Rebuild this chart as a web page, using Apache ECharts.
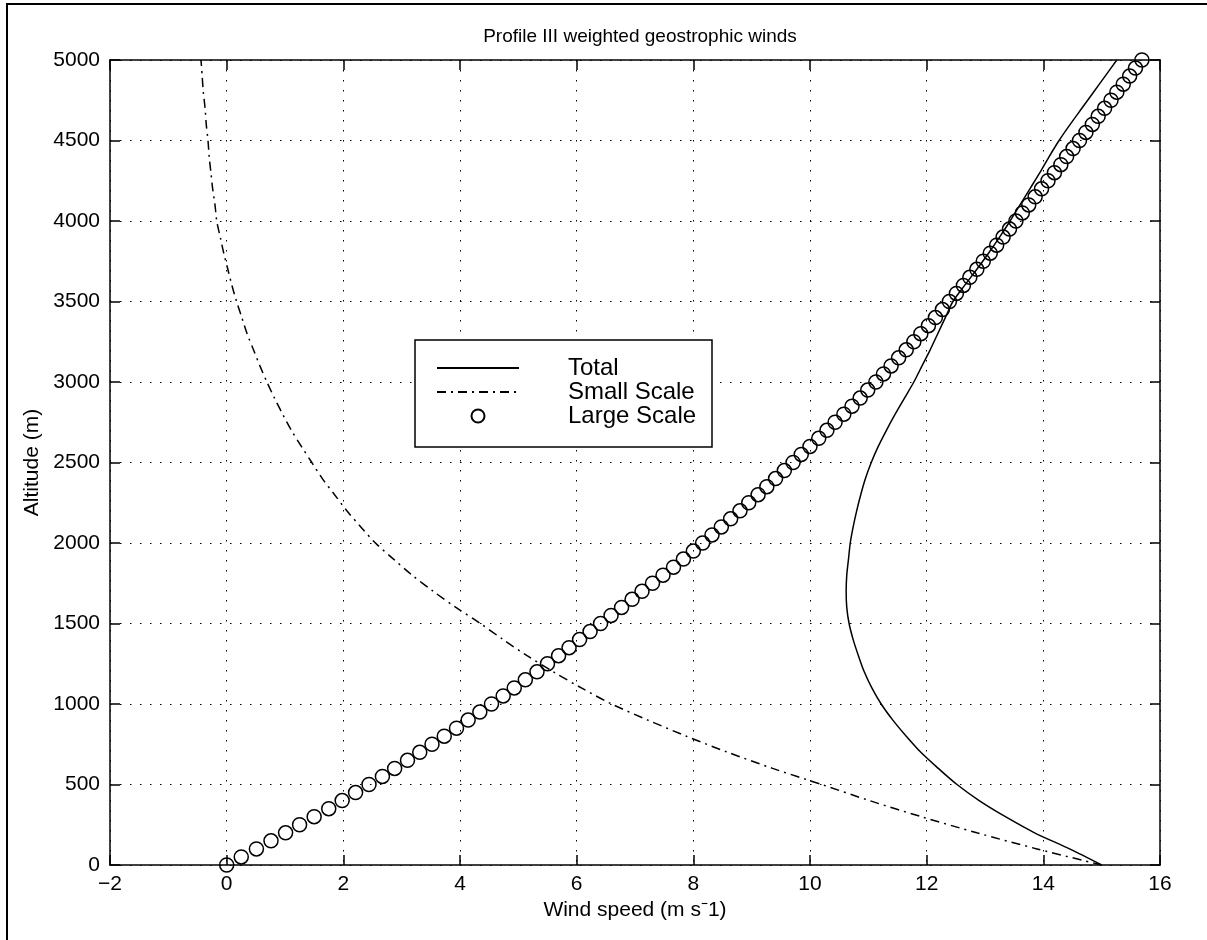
<!DOCTYPE html>
<html><head><meta charset="utf-8">
<script src="https://cdn.jsdelivr.net/npm/echarts@6/dist/echarts.min.js"></script>
<style>html,body{margin:0;padding:0;background:#fff}#c{width:1207px;height:940px}</style>
</head><body><div id="c"></div>
<script>
// ---------- data ----------
const chartTitle = 'Profile III weighted geostrophic winds';
const xAxisName = 'Wind speed (m s\u207B1)';
const yAxisName = 'Altitude (m)';
const seriesNames = ['Total', 'Small Scale', 'Large Scale'];

const xMin = -2, xMax = 16, xStep = 2;
const yMin = 0, yMax = 5000, yStep = 500;

// Large scale (circles), altitude in m
const largeAltitude = [0,50,100,150,200,250,300,350,400,450,500,550,600,650,700,750,800,850,900,950,
  1000,1050,1100,1150,1200,1250,1300,1350,1400,1450,1500,1550,1600,1650,1700,1750,1800,1850,1900,1950,
  2000,2050,2100,2150,2200,2250,2300,2350,2400,2450,2500,2550,2600,2650,2700,2750,2800,2850,2900,2950,
  3000,3050,3100,3150,3200,3250,3300,3350,3400,3450,3500,3550,3600,3650,3700,3750,3800,3850,3900,3950,
  4000,4050,4100,4150,4200,4250,4300,4350,4400,4450,4500,4550,4600,4650,4700,4750,4800,4850,4900,4950,5000];
const largeSpeed = [0,0.25,0.51,0.76,1.01,1.25,1.50,1.75,1.98,2.21,2.44,2.67,2.88,3.10,3.31,3.52,3.73,3.94,4.14,4.34,
  4.54,4.74,4.93,5.12,5.32,5.50,5.69,5.87,6.05,6.23,6.41,6.59,6.77,6.95,7.12,7.30,7.48,7.66,7.83,8.00,
  8.16,8.32,8.48,8.64,8.80,8.95,9.11,9.26,9.41,9.56,9.71,9.85,10.00,10.15,10.29,10.43,10.58,10.72,10.86,10.99,
  11.13,11.26,11.39,11.52,11.65,11.78,11.90,12.03,12.15,12.27,12.39,12.51,12.63,12.74,12.86,12.97,13.09,13.20,13.31,13.42,
  13.53,13.64,13.75,13.86,13.97,14.08,14.19,14.30,14.40,14.51,14.62,14.73,14.84,14.94,15.05,15.16,15.26,15.37,15.48,15.58,15.69];

// Total (solid line), Small scale (dash-dot line): altitude every 100 m
const profileAltitude = [0,100,200,300,400,500,600,700,800,900,1000,1100,1200,1300,1400,1500,1600,1700,1800,1900,
  2000,2100,2200,2300,2400,2500,2600,2700,2800,2900,3000,3100,3200,3300,3400,3500,3600,3700,3800,3900,
  4000,4100,4200,4300,4400,4500,4600,4700,4800,4900,5000];
const totalSpeed = [15.0,14.45,13.85,13.35,12.9,12.52,12.2,11.9,11.65,11.42,11.22,11.06,10.93,10.83,10.74,10.67,10.63,10.62,10.63,10.66,
  10.69,10.74,10.80,10.87,10.95,11.05,11.17,11.31,11.46,11.62,11.78,11.92,12.06,12.19,12.32,12.45,12.65,12.86,13.06,13.25,
  13.43,13.60,13.77,13.94,14.10,14.27,14.46,14.66,14.86,15.06,15.26];
const smallSpeed = [15.0,13.89,12.86,11.91,11.02,10.2,9.36,8.59,7.88,7.22,6.6,6.08,5.60,5.15,4.74,4.35,3.93,3.54,3.18,2.86,
  2.55,2.30,2.06,1.85,1.64,1.46,1.28,1.11,0.96,0.82,0.69,0.57,0.46,0.35,0.26,0.17,0.09,0.02,-0.05,-0.11,
  -0.17,-0.20,-0.24,-0.27,-0.30,-0.32,-0.35,-0.37,-0.40,-0.42,-0.44];

// ---------- chart ----------
const FONT = "'Liberation Sans', Arial, Helvetica, sans-serif";
const pairs = (xs, ys) => xs.map((x, i) => [x, ys[i]]);

const axisLineStyle = { color: '#000', width: 1.5 };
const gridLineStyle = { color: '#000', width: 1, type: [1.5, 8.5] };

function xAxisCfg(pos, main) {
  return {
    type: 'value', position: pos, min: xMin, max: xMax, interval: xStep,
    axisLine: { show: true, onZero: false, lineStyle: axisLineStyle },
    axisTick: { show: true, inside: true, length: 10, lineStyle: axisLineStyle },
    axisLabel: { show: main, color: '#000', fontSize: 21, fontFamily: FONT, margin: 9,
      formatter: v => String(v).replace('-', '\u2212') },
    splitLine: { show: main, lineStyle: gridLineStyle },
    name: main ? xAxisName : '', nameLocation: 'middle', nameGap: 33,
    nameTextStyle: { color: '#000', fontSize: 21, fontFamily: FONT }
  };
}
function yAxisCfg(pos, main) {
  return {
    type: 'value', position: pos, min: yMin, max: yMax, interval: yStep,
    axisLine: { show: true, onZero: false, lineStyle: axisLineStyle },
    axisTick: { show: true, inside: true, length: 10, lineStyle: axisLineStyle },
    axisLabel: { show: main, color: '#000', fontSize: 21, fontFamily: FONT, margin: 10,
      formatter: v => String(v) },
    splitLine: { show: main, lineStyle: gridLineStyle },
    name: main ? yAxisName : '', nameLocation: 'middle', nameGap: 66,
    nameTextStyle: { color: '#000', fontSize: 21, fontFamily: FONT }
  };
}

const hiddenSymbol = { color: 'rgba(0,0,0,0)', borderColor: 'rgba(0,0,0,0)', borderWidth: 0 };

const chart = echarts.init(document.getElementById('c'), null, { renderer: 'canvas' });
chart.setOption({
  backgroundColor: '#fff',
  animation: false,
  title: {
    text: chartTitle, left: 635, top: 22, textAlign: 'center',
    textStyle: { color: '#000', fontSize: 19, fontWeight: 'normal', fontFamily: FONT }
  },
  grid: { left: 110, right: 47, top: 60, bottom: 75, containLabel: false },
  xAxis: [xAxisCfg('bottom', true), xAxisCfg('top', false)],
  yAxis: [yAxisCfg('left', true), yAxisCfg('right', false)],
  legend: {
    orient: 'vertical', left: 436, top: 356, padding: 0, itemGap: 0,
    itemWidth: 82, itemHeight: 13, z: 30,
    data: [
      { name: seriesNames[0], itemStyle: hiddenSymbol },
      { name: seriesNames[1], itemStyle: hiddenSymbol },
      { name: seriesNames[2] }
    ],
    formatter: '{g|}{name}',
    textStyle: { color: '#000', fontSize: 24, fontFamily: FONT, lineHeight: 22, height: 22,
      rich: { g: { width: 44, lineHeight: 22, height: 22 } } }
  },
  graphic: [
    { type: 'rect', z: 20, shape: { x: 415, y: 340, width: 297, height: 107 },
      style: { fill: '#fff', stroke: '#000', lineWidth: 1.5 } },
    { type: 'line', z: 20, shape: { x1: 6, y1: 4, x2: 1207, y2: 4 }, style: { stroke: '#000', lineWidth: 2 } },
    { type: 'line', z: 20, shape: { x1: 7, y1: 4, x2: 7, y2: 940 }, style: { stroke: '#000', lineWidth: 2 } }
  ],
  series: [
    { name: seriesNames[0], type: 'line', data: pairs(totalSpeed, profileAltitude), smooth: 0.3,
      symbol: 'none', lineStyle: { color: '#000', width: 1.5 }, itemStyle: { color: '#000' } },
    { name: seriesNames[1], type: 'line', data: pairs(smallSpeed, profileAltitude), smooth: 0.3,
      symbol: 'none', lineStyle: { color: '#000', width: 1.5, type: [9, 5, 2, 5] }, itemStyle: { color: '#000' } },
    { name: seriesNames[2], type: 'scatter', data: pairs(largeSpeed, largeAltitude),
      symbol: 'circle', symbolSize: 14,
      itemStyle: { color: 'rgba(0,0,0,0)', borderColor: '#000', borderWidth: 1.5, opacity: 1 } }
  ]
});
</script>
</body></html>
